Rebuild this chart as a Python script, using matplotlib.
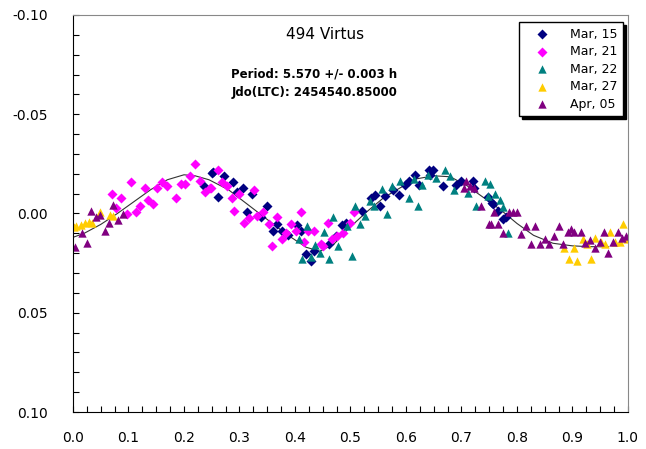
import matplotlib.pyplot as plt
from matplotlib.ticker import MultipleLocator, FormatStrFormatter

plt.rcParams["font.family"] = ["DejaVu Sans"]
plt.rcParams["axes.unicode_minus"] = False

# phase / relative magnitude
mar15Phase = [0.236, 0.250, 0.252, 0.261, 0.272, 0.288, 0.296, 0.306, 0.314, 0.323,
              0.339, 0.350, 0.360, 0.368, 0.377, 0.387, 0.404, 0.411, 0.420, 0.429,
              0.434, 0.461, 0.474, 0.485, 0.492, 0.521, 0.537, 0.544, 0.554, 0.562,
              0.577, 0.587, 0.598, 0.605, 0.616, 0.623, 0.641, 0.644, 0.649, 0.667,
              0.691, 0.700, 0.721, 0.723, 0.747, 0.755, 0.757, 0.765, 0.775, 0.781]
mar15Mag = [-0.0138, -0.0205, -0.021, -0.0084, -0.019, -0.016, -0.011, -0.013, -0.001, -0.0096,
            0.002, -0.004, 0.0086, 0.0055, 0.009, 0.0106, 0.0059, 0.009, 0.0203, 0.024,
            0.019, 0.0156, 0.0114, 0.0059, 0.0047, -0.0012, -0.0079, -0.0092, -0.0037, -0.0087,
            -0.012, -0.0092, -0.0146, -0.0166, -0.0193, -0.0146, -0.022, -0.0193, -0.022, -0.0138,
            -0.0146, -0.0163, -0.0163, -0.013, -0.0082, -0.0054, -0.0049, -0.0012, 0.003, 0.0018]

mar21Phase = [0.071, 0.078, 0.087, 0.097, 0.104, 0.113, 0.121, 0.129, 0.135, 0.144,
              0.152, 0.160, 0.169, 0.185, 0.194, 0.202, 0.211, 0.219, 0.228, 0.237,
              0.246, 0.249, 0.261, 0.268, 0.277, 0.286, 0.291, 0.300, 0.308, 0.317,
              0.326, 0.332, 0.342, 0.353, 0.359, 0.368, 0.377, 0.384, 0.392, 0.401,
              0.410, 0.417, 0.423, 0.434, 0.447, 0.450, 0.459, 0.467, 0.476, 0.486,
              0.499, 0.506]
mar21Mag = [-0.0096, -0.003, -0.008, 0.0002, -0.016, -0.001, -0.004, -0.0126, -0.007, -0.005,
            -0.0126, -0.016, -0.0138, -0.008, -0.015, -0.015, -0.019, -0.025, -0.0166, -0.011,
            -0.013, -0.013, -0.022, -0.016, -0.0138, -0.0079, -0.0015, -0.0099, 0.0047, 0.0022,
            -0.012, 0.0013, -0.001, 0.0055, 0.0165, 0.0018, 0.013, 0.0097, 0.0055, 0.0086,
            -0.001, 0.0143, 0.009, 0.009, 0.0156, 0.0165, 0.0047, 0.013, 0.0114, 0.0097,
            0.0047, -0.001]

mar22Phase = [0.407, 0.413, 0.422, 0.429, 0.437, 0.446, 0.452, 0.461, 0.469, 0.477,
              0.494, 0.502, 0.509, 0.518, 0.526, 0.535, 0.542, 0.557, 0.566, 0.574,
              0.590, 0.605, 0.614, 0.622, 0.629, 0.640, 0.655, 0.670, 0.679, 0.686,
              0.712, 0.727, 0.743, 0.748, 0.751, 0.761, 0.769, 0.775, 0.784]
mar22Mag = [0.013, 0.0227, 0.0064, 0.022, 0.016, 0.0198, 0.0092, 0.0227, 0.002, 0.0165,
            0.0064, 0.0215, -0.0037, 0.0055, 0.0013, -0.0062, -0.0037, -0.0124, 0.0005, -0.0138,
            -0.0166, -0.0079, -0.0176, -0.0037, -0.0146, -0.0193, -0.018, -0.022, -0.0188, -0.012,
            -0.0104, -0.0037, -0.0163, -0.0087, -0.015, -0.0096, -0.007, -0.0032, 0.0097]

mar27Phase = [0.001, 0.006, 0.014, 0.021, 0.028, 0.034, 0.049, 0.066, 0.072,
              0.885, 0.893, 0.903, 0.909, 0.919, 0.927, 0.933, 0.941, 0.952, 0.959,
              0.967, 0.976, 0.985, 0.991, 0.999]
mar27Mag = [0.007, 0.0064, 0.006, 0.005, 0.0044, 0.0047, -0.001, 0.001, 0.0013,
            0.0176, 0.0227, 0.0173, 0.0237, 0.013, 0.0153, 0.0227, 0.0122, 0.0143, 0.0153,
            0.0092, 0.0143, 0.0143, 0.0055, 0.013]

apr05Phase = [0.004, 0.016, 0.025, 0.033, 0.042, 0.049, 0.057, 0.064, 0.072, 0.081,
              0.090, 0.704, 0.709, 0.715, 0.723, 0.736, 0.749, 0.753, 0.759, 0.766,
              0.775, 0.785, 0.793, 0.800, 0.808, 0.817, 0.825, 0.833, 0.841, 0.850,
              0.858, 0.867, 0.875, 0.883, 0.892, 0.898, 0.903, 0.915, 0.922, 0.931,
              0.940, 0.949, 0.957, 0.964, 0.973, 0.982, 0.989, 0.997]
apr05Mag = [0.017, 0.010, 0.015, -0.0015, 0.002, 0.001, 0.009, 0.005, -0.0045, 0.0035,
            0.0005, -0.013, -0.0166, -0.0138, -0.013, -0.0037, 0.0055, 0.0055, -0.0009, 0.0055,
            0.010, -0.0009, -0.0009, -0.0009, 0.0102, 0.0064, 0.0156, 0.0064, 0.0156, 0.013,
            0.0156, 0.0114, 0.0064, 0.0156, 0.0092, 0.008, 0.0092, 0.0092, 0.0148, 0.0136,
            0.0173, 0.0143, 0.0092, 0.0198, 0.0143, 0.0092, 0.0122, 0.0114]

# fourier fit curve
fitPhase = [0.00, 0.02, 0.05, 0.08, 0.11, 0.14, 0.17, 0.20, 0.22, 0.245, 0.28, 0.315,
            0.35, 0.385, 0.42, 0.445, 0.47, 0.495, 0.53, 0.56, 0.59, 0.62, 0.65, 0.68,
            0.71, 0.74, 0.77, 0.80, 0.83, 0.865, 0.90, 0.93, 0.965]
fitMag = [0.012, 0.010, 0.0055, 0.000, -0.006, -0.012, -0.017, -0.0195, -0.019, -0.017,
          -0.012, -0.0045, 0.003, 0.0105, 0.017, 0.019, 0.0155, 0.008, -0.001, -0.008,
          -0.013, -0.0175, -0.019, -0.0185, -0.014, -0.008, -0.002, 0.005, 0.011, 0.015,
          0.0163, 0.0167, 0.0168]

sessions = [
    ("Mar, 15", mar15Phase, mar15Mag, "D", "#000080", 26),
    ("Mar, 21", mar21Phase, mar21Mag, "D", "#ff00ff", 26),
    ("Mar, 22", mar22Phase, mar22Mag, "^", "#008080", 36),
    ("Mar, 27", mar27Phase, mar27Mag, "^", "#ffcc00", 36),
    ("Apr, 05", apr05Phase, apr05Mag, "^", "#800080", 36),
]


def plotLightcurve() -> None:
    fig = plt.figure(figsize=(6.46, 4.49), dpi=100)
    ax = fig.add_axes([0.113, 0.0824, 0.859, 0.8842])

    ax.plot(fitPhase, fitMag, color="#333333", linewidth=0.8, zorder=1)
    for name, phase, mag, marker, color, size in sessions:
        ax.scatter(phase, mag, marker=marker, color=color, s=size,
                   linewidths=0, label=name, zorder=2)

    ax.set_xlim(0.0, 1.0)
    ax.set_ylim(0.10, -0.10)
    ax.xaxis.set_major_locator(MultipleLocator(0.1))
    ax.xaxis.set_minor_locator(MultipleLocator(0.025))
    ax.yaxis.set_major_locator(MultipleLocator(0.05))
    ax.yaxis.set_minor_locator(MultipleLocator(0.01))
    ax.xaxis.set_major_formatter(FormatStrFormatter("%.1f"))
    ax.yaxis.set_major_formatter(FormatStrFormatter("%.2f"))
    ax.tick_params(which="both", direction="in", length=4, width=0.8,
                   top=False, right=False, labelsize=10, color="black")
    ax.tick_params(axis="x", pad=14)
    ax.tick_params(axis="y", pad=18)

    for side in ["top", "right"]:
        ax.spines[side].set_color("#888888")
    for side in ["left", "bottom"]:
        ax.spines[side].set_color("black")

    ax.text(0.455, 0.95, "494 Virtus", transform=ax.transAxes,
            ha="center", va="center", fontsize=11)
    ax.text(0.435, 0.852, "Period: 5.570 +/- 0.003 h", transform=ax.transAxes,
            ha="center", va="center", fontsize=8.5, fontweight="bold")
    ax.text(0.435, 0.806, "Jdo(LTC): 2454540.85000", transform=ax.transAxes,
            ha="center", va="center", fontsize=8.5, fontweight="bold")

    leg = ax.legend(loc="upper right", bbox_to_anchor=(0.991, 0.982),
                    fontsize=9, frameon=True, fancybox=False,
                    shadow={"color": "black", "alpha": 1.0},
                    edgecolor="black", borderpad=0.45, labelspacing=0.36,
                    handlelength=2.8, handletextpad=0.8, borderaxespad=0,
                    scatterpoints=1)
    leg.get_frame().set_linewidth(1.0)

    fig.savefig("out.png", dpi=100)


if __name__ == "__main__":
    plotLightcurve()
